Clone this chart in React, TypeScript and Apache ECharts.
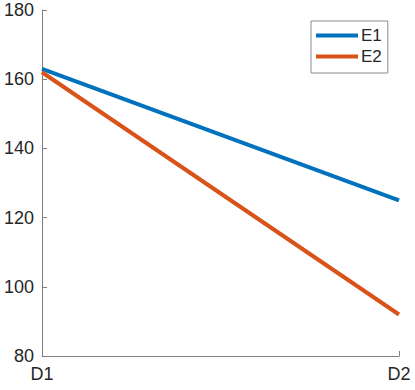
import React, { useEffect, useRef } from "react";
import * as echarts from "echarts";

const categories = ["D1", "D2"];
const e1Values = [163, 125];
const e2Values = [162, 92];
const yTicks = { min: 80, max: 180, interval: 20 };

export default function App() {
  const ref = useRef<HTMLDivElement>(null);
  useEffect(() => {
    if (!ref.current) return;
    const chart = echarts.init(ref.current, null, { renderer: "svg" });
    const font = "'Liberation Sans', Arial, Helvetica, sans-serif";
    chart.setOption({
      animation: false,
      backgroundColor: "#ffffff",
      textStyle: { fontFamily: font },
      grid: { left: 42, right: 16, top: 10, bottom: 34, containLabel: false },
      legend: {
        orient: "vertical",
        left: 311,
        top: 21,
        icon: "rect",
        itemWidth: 42,
        itemHeight: 4,
        itemGap: 4,
        padding: [6, 6, 8, 5],
        borderColor: "#8c8c8c",
        borderWidth: 1,
        backgroundColor: "#ffffff",
        textStyle: { fontSize: 17, color: "#262626", fontFamily: font, padding: [0, 0, 0, -2] },
        data: ["E1", "E2"],
      },
      xAxis: {
        type: "category",
        data: categories,
        boundaryGap: false,
        axisLine: { lineStyle: { color: "#808080", width: 1 } },
        axisTick: { show: true, inside: true, length: 5, lineStyle: { color: "#808080" } },
        axisLabel: { fontSize: 18, color: "#262626", margin: 9, fontFamily: font },
        splitLine: { show: false },
      },
      yAxis: {
        type: "value",
        min: yTicks.min,
        max: yTicks.max,
        interval: yTicks.interval,
        axisLine: { show: true, lineStyle: { color: "#808080", width: 1 } },
        axisTick: { show: true, inside: true, length: 5, lineStyle: { color: "#808080" } },
        axisLabel: { fontSize: 18, color: "#262626", margin: 8, fontFamily: font },
        splitLine: { show: false },
      },
      series: [
        {
          name: "E1",
          type: "line",
          data: e1Values,
          symbol: "none",
          color: "#0072BD",
          lineStyle: { width: 4, color: "#0072BD" },
        },
        {
          name: "E2",
          type: "line",
          data: e2Values,
          symbol: "none",
          color: "#D95319",
          lineStyle: { width: 4, color: "#D95319" },
        },
      ],
    });
    return () => chart.dispose();
  }, []);
  return (
    <div
      ref={ref}
      style={{ position: "absolute", left: 0, top: 0, width: 415, height: 390 }}
    />
  );
}
